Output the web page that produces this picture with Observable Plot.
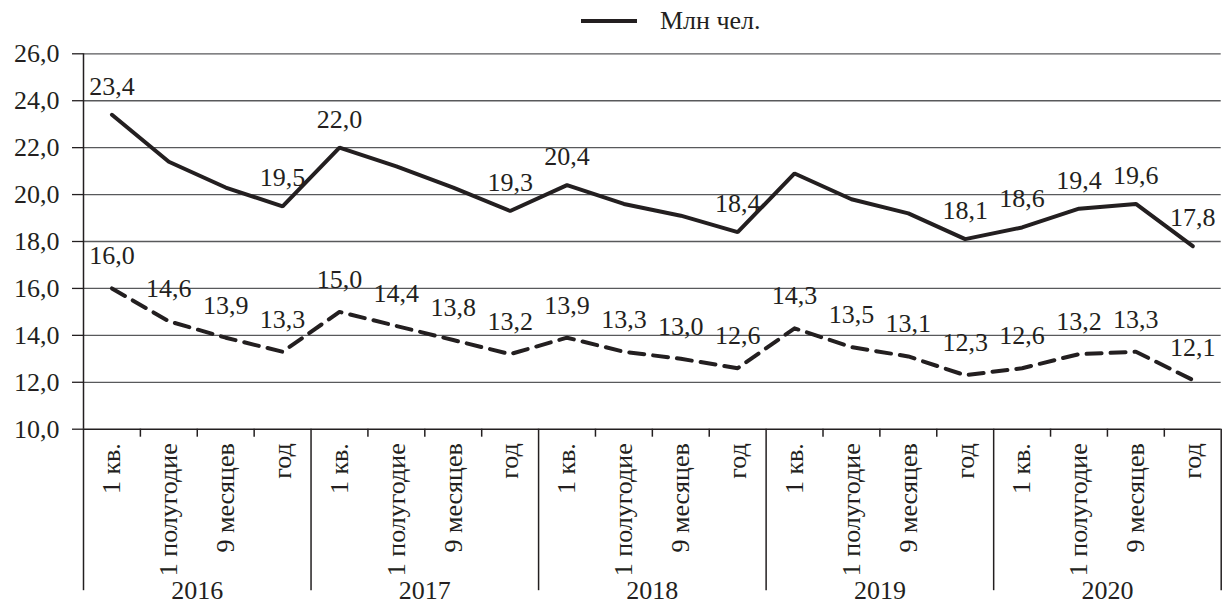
<!DOCTYPE html>
<html><head><meta charset="utf-8">
<script src="https://cdn.jsdelivr.net/npm/d3@7"></script>
<script src="https://cdn.jsdelivr.net/npm/@observablehq/plot@0.6"></script>
<style>
body{margin:0;background:#fff;font-family:"Liberation Serif","Times New Roman",serif;}
#wrap{position:relative;width:1224px;height:612px;}
#legend{position:absolute;left:581px;top:0;height:42px;display:flex;align-items:center;font-size:26px;color:#231f20;font-family:"Liberation Serif","Times New Roman",serif;}
#chart{position:absolute;left:0;top:0;}
</style></head><body>
<div id="wrap"><div id="chart"></div><div id="legend"><svg width="56" height="8"><line x1="0" x2="56" y1="4" y2="4" stroke="#231f20" stroke-width="4"/></svg><span style="margin-left:23px">Млн чел.</span></div></div>
<script>
const years = ["2016", "2017", "2018", "2019", "2020"];
const periods = ["1 кв.", "1 полугодие", "9 месяцев", "год"];
const solidValues = [23.4, 21.4, 20.3, 19.5, 22.0, 21.2, 20.3, 19.3, 20.4, 19.6, 19.1, 18.4, 20.9, 19.8, 19.2, 18.1, 18.6, 19.4, 19.6, 17.8];
const solidLabeled = [true, false, false, true, true, false, false, true, true, false, false, true, false, false, false, true, true, true, true, true];
const dashedValues = [16.0, 14.6, 13.9, 13.3, 15.0, 14.4, 13.8, 13.2, 13.9, 13.3, 13.0, 12.6, 14.3, 13.5, 13.1, 12.3, 12.6, 13.2, 13.3, 12.1];
const yTicks = [10, 12, 14, 16, 18, 20, 22, 24, 26];

const rows = solidValues.map((v, i) => ({
  i, year: years[Math.floor(i / 4)], period: periods[i % 4],
  solid: v, dashed: dashedValues[i], showLabel: solidLabeled[i]
}));
const fmt = v => v.toFixed(1).replace(".", ",");
const ink = "#231f20";
const ff = "Liberation Serif";
const mTop = 53.3, mBottom = 183.3, H = 612;
const ppu = (H - mBottom - mTop) / 16;
const below = px => 10 - px / ppu;
const nCat = rows.length;
const minorTicks = d3.range(1, nCat).filter(k => k % 4 !== 0);
const majorTicks = d3.range(0, nCat + 1, 4);

const chart = Plot.plot({
  width: 1224, height: H,
  marginLeft: 83, marginRight: 3.3, marginTop: mTop, marginBottom: mBottom,
  style: {fontFamily: ff, fontSize: "26px", color: ink, background: "transparent", overflow: "visible"},
  x: {domain: [0, nCat], axis: null},
  y: {domain: [10, 26], axis: null},
  marks: [
    Plot.ruleY(yTicks.filter(t => t > 10), {y: d => d, stroke: "#58595b", strokeWidth: 1.3}),
    Plot.axisY({ticks: yTicks, tickFormat: fmt, tickSize: 11, tickPadding: 13, fontSize: 26, fontFamily: ff, stroke: ink, strokeWidth: 1.3, label: null}),
    Plot.ruleX([0], {x: d => d, y1: 10, y2: 26, stroke: ink, strokeWidth: 1.5}),
    Plot.ruleY([10], {y: d => d, stroke: ink, strokeWidth: 1.5}),
    Plot.ruleX(minorTicks, {x: d => d, y1: 10, y2: below(8), stroke: ink, strokeWidth: 1.5}),
    Plot.ruleX(majorTicks, {x: d => d, y1: 10, y2: below(161.5), stroke: ink, strokeWidth: 1.5}),
    Plot.text(rows, {x: d => d.i + 0.5, text: "period", frameAnchor: "bottom", dy: 14, rotate: -90, textAnchor: "end", lineAnchor: "middle", fontSize: 26, fontFamily: ff, fill: ink}),
    Plot.text(years, {x: (d, i) => i * 4 + 2, text: d => d, frameAnchor: "bottom", dy: 170, fontSize: 26, fontFamily: ff, fill: ink}),
    Plot.line(rows, {x: d => d.i + 0.5, y: "solid", stroke: ink, strokeWidth: 4, strokeLinejoin: "miter"}),
    Plot.line(rows, {x: d => d.i + 0.5, y: "dashed", stroke: ink, strokeWidth: 4, strokeDasharray: "15,9"}),
    Plot.text(rows.filter(d => d.showLabel), {x: d => d.i + 0.5, y: "solid", text: d => fmt(d.solid), lineAnchor: "bottom", dy: -20, fontSize: 26, fontFamily: ff, fill: ink}),
    Plot.text(rows, {x: d => d.i + 0.5, y: "dashed", text: d => fmt(d.dashed), lineAnchor: "bottom", dy: -24, fontSize: 26, fontFamily: ff, fill: ink})
  ]
});
document.getElementById("chart").appendChild(chart);
</script>
</body></html>
